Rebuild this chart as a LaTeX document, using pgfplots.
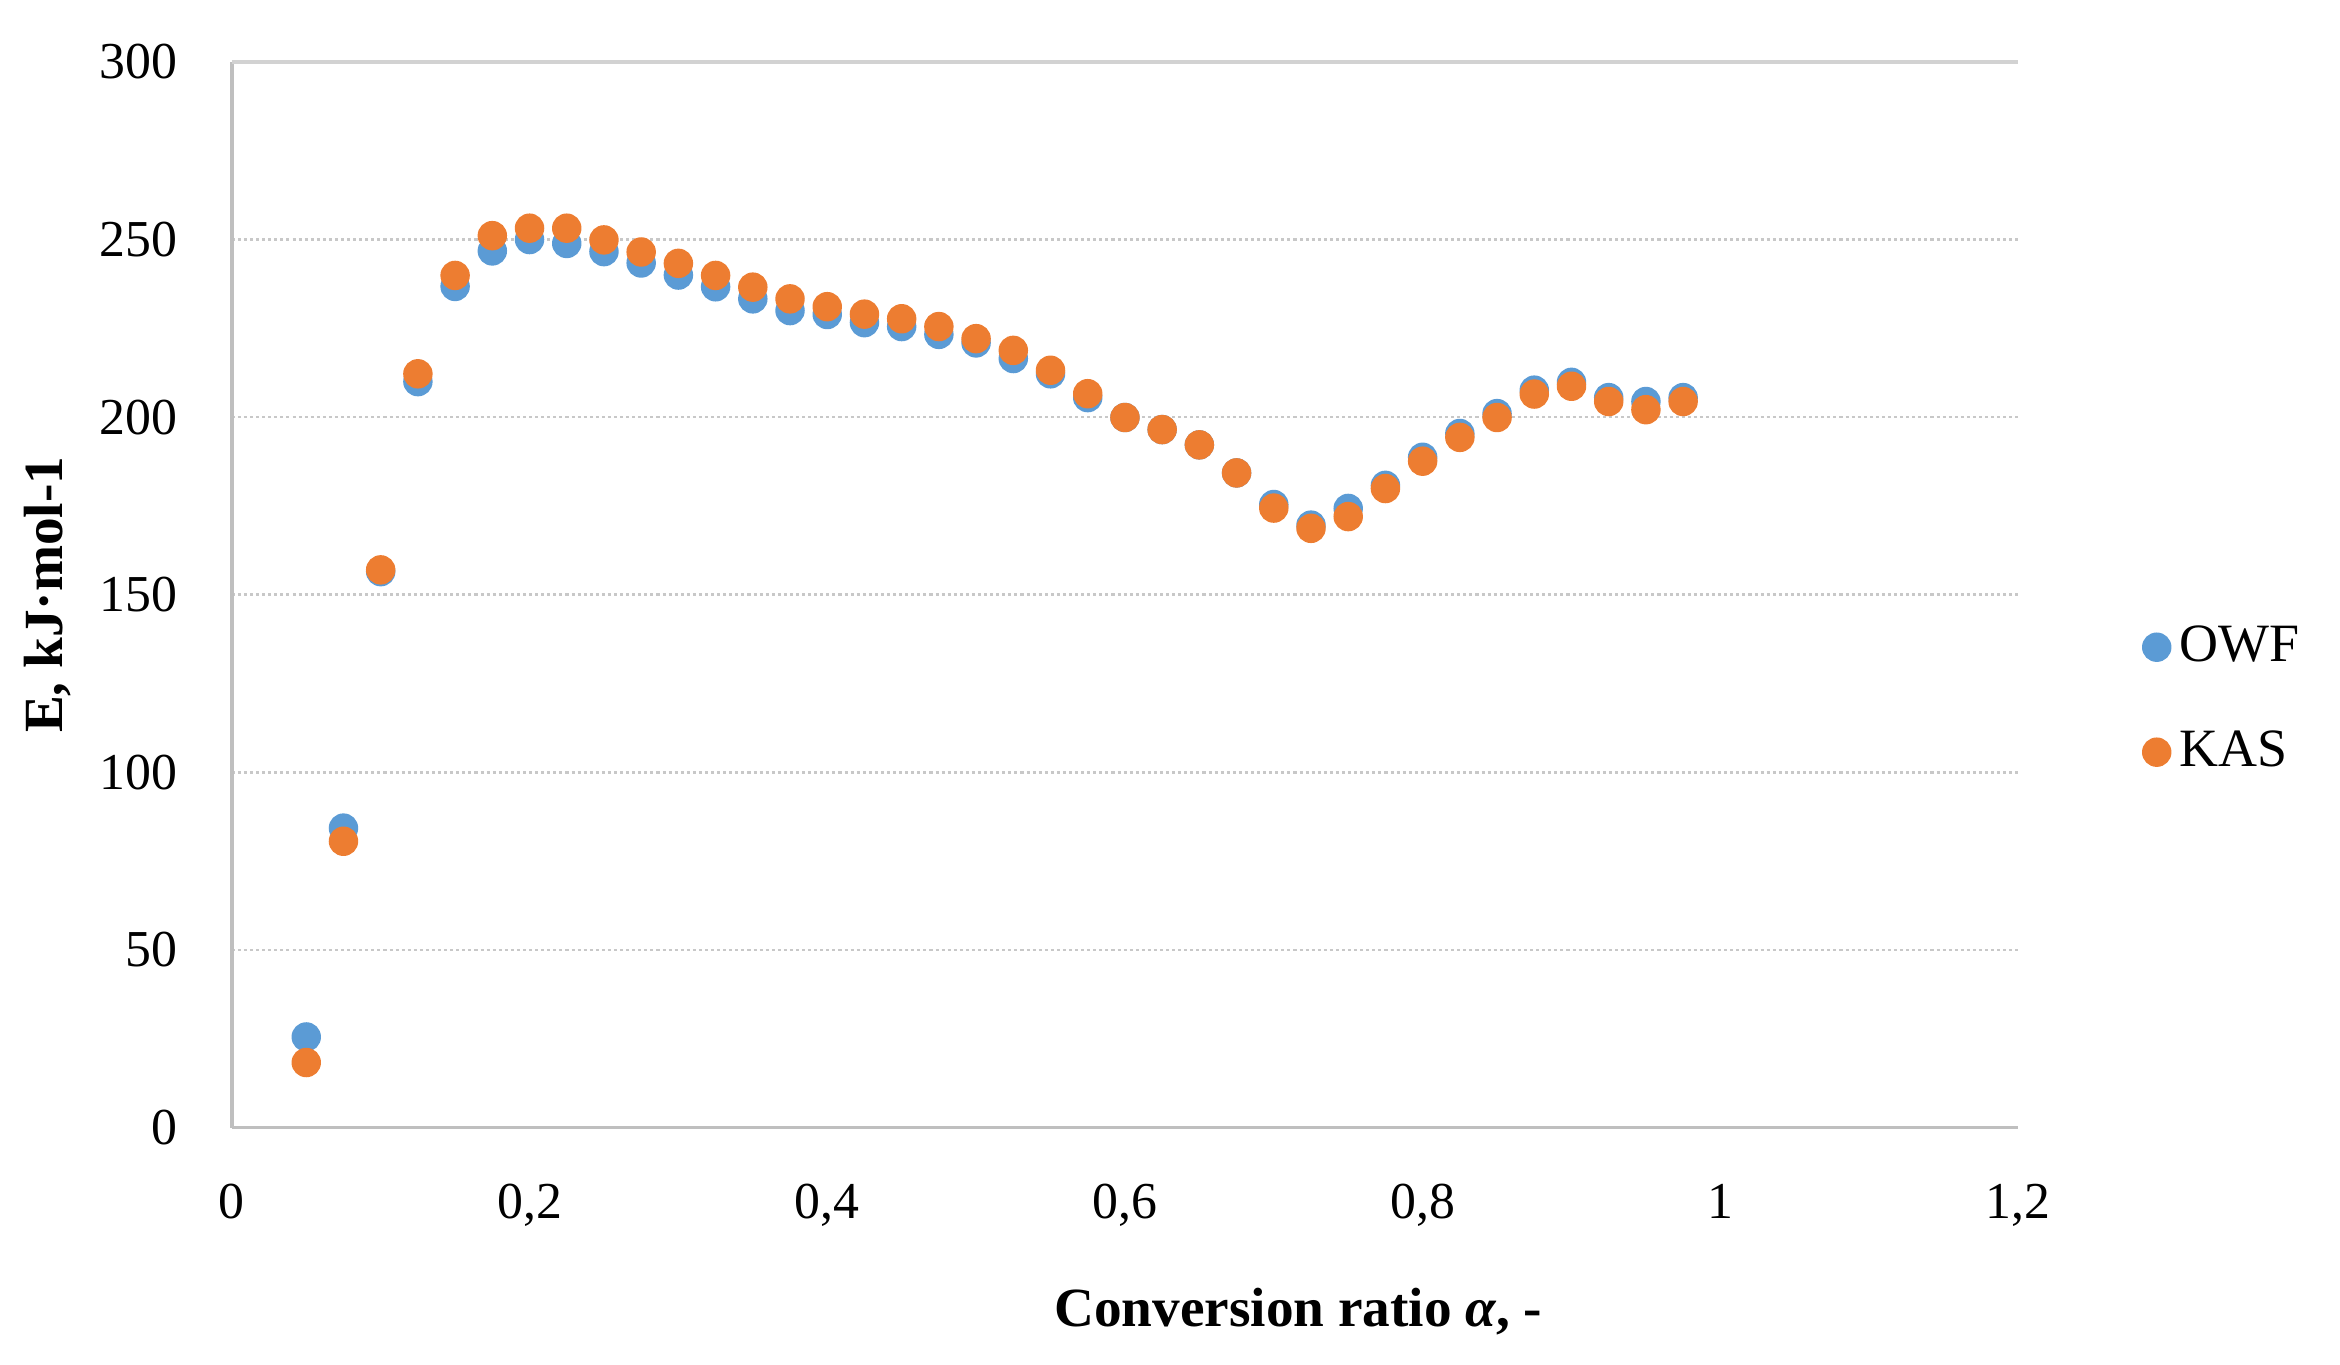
\documentclass[border=0pt]{standalone}
\usepackage{fontspec}
\setmainfont{Liberation Serif}
\usepackage{pgfplots}
\pgfplotsset{compat=1.18}

\definecolor{owf}{HTML}{5B9BD5}
\definecolor{kas}{HTML}{ED7D31}
\definecolor{gridc}{HTML}{C8C8C8}
\definecolor{axisc}{HTML}{BFBFBF}

\begin{document}
\begin{tikzpicture}
\path[use as bounding box] (0,0) rectangle (540bp,315bp);
\begin{axis}[
    at={(53.5bp,54.8bp)}, anchor=south west,
    scale only axis,
    width=412.2bp, height=245.9bp,
    xmin=0, xmax=1.2, ymin=0, ymax=300,
    axis x line*=bottom, axis y line*=left,
    x axis line style={axisc, line width=0.8bp},
    y axis line style={axisc, line width=0.8bp},
    major tick length=0pt,
    xtick={0,0.2,0.4,0.6,0.8,1,1.2},
    xticklabels={0,{0,2},{0,4},{0,6},{0,8},1,{1,2}},
    ytick={0,50,100,150,200,250,300},
    ymajorgrids,
    major grid style={gridc, line width=0.6bp, dash pattern=on 0.7bp off 0.7bp},
    /pgf/number format/assume math mode=true,
    every tick label/.append style={font=\fontsize{12}{14}\selectfont},
    yticklabel style={xshift=-9bp},
    xticklabel style={yshift=-9.5bp},
    label style={font=\bfseries\fontsize{12.8}{15}\selectfont},
    xlabel={Conversion ratio {\itshape α}, -},
    ylabel={E, kJ·mol-1},
    xlabel style={at={(axis description cs:0.597,-0.173)}, anchor=center},
    ylabel style={at={(axis description cs:-0.103,0.5)}, anchor=center},
    clip=false,
    legend image code/.code={\draw[#1] plot coordinates {(0cm,0cm)};},
    legend cell align=left,
    legend style={draw=none, fill=none, inner xsep=0pt, inner ysep=0pt,
        nodes={inner sep=2pt}, row sep=10.5bp,
        at={(axis description cs:1.0694,0.4015)}, anchor=west,
        font=\fontsize{12.5}{14}\selectfont},
]
\draw[axisc!70, line width=0.8bp] (axis cs:0,300) -- (axis cs:1.2,300);

\addplot[only marks, mark=*, mark size=3.2bp, color=owf] coordinates {
(0.05,25.5) (0.075,84.3) (0.1,156.5) (0.125,210.0) (0.15,236.8)
(0.175,246.8) (0.2,250.0) (0.225,248.9) (0.25,246.6) (0.275,243.4)
(0.3,240.0) (0.325,236.7) (0.35,233.3) (0.375,230.0) (0.4,228.9)
(0.425,226.6) (0.45,225.5) (0.475,223.3) (0.5,220.9) (0.525,216.5)
(0.55,212.2) (0.575,205.5) (0.6,199.9) (0.625,196.5) (0.65,192.2)
(0.675,184.3) (0.7,175.4) (0.725,169.6) (0.75,174.3) (0.775,180.8)
(0.8,188.7) (0.825,195.4) (0.85,201.0) (0.875,207.6) (0.9,209.8)
(0.925,205.5) (0.95,204.4) (0.975,205.5)
};
\addlegendentry{OWF}

\addplot[only marks, mark=*, mark size=3.2bp, color=kas] coordinates {
(0.05,18.3) (0.075,80.6) (0.1,157.0) (0.125,212.2) (0.15,239.9)
(0.175,251.1) (0.2,253.2) (0.225,253.2) (0.25,249.9) (0.275,246.5)
(0.3,243.3) (0.325,239.9) (0.35,236.6) (0.375,233.3) (0.4,231.1)
(0.425,229.0) (0.45,227.7) (0.475,225.5) (0.5,222.1) (0.525,218.8)
(0.55,213.2) (0.575,206.6) (0.6,199.9) (0.625,196.5) (0.65,192.2)
(0.675,184.3) (0.7,174.4) (0.725,168.7) (0.75,172.0) (0.775,179.9)
(0.8,187.6) (0.825,194.3) (0.85,199.9) (0.875,206.5) (0.9,208.7)
(0.925,204.4) (0.95,202.1) (0.975,204.4)
};
\addlegendentry{KAS}
\end{axis}
\end{tikzpicture}
\end{document}
